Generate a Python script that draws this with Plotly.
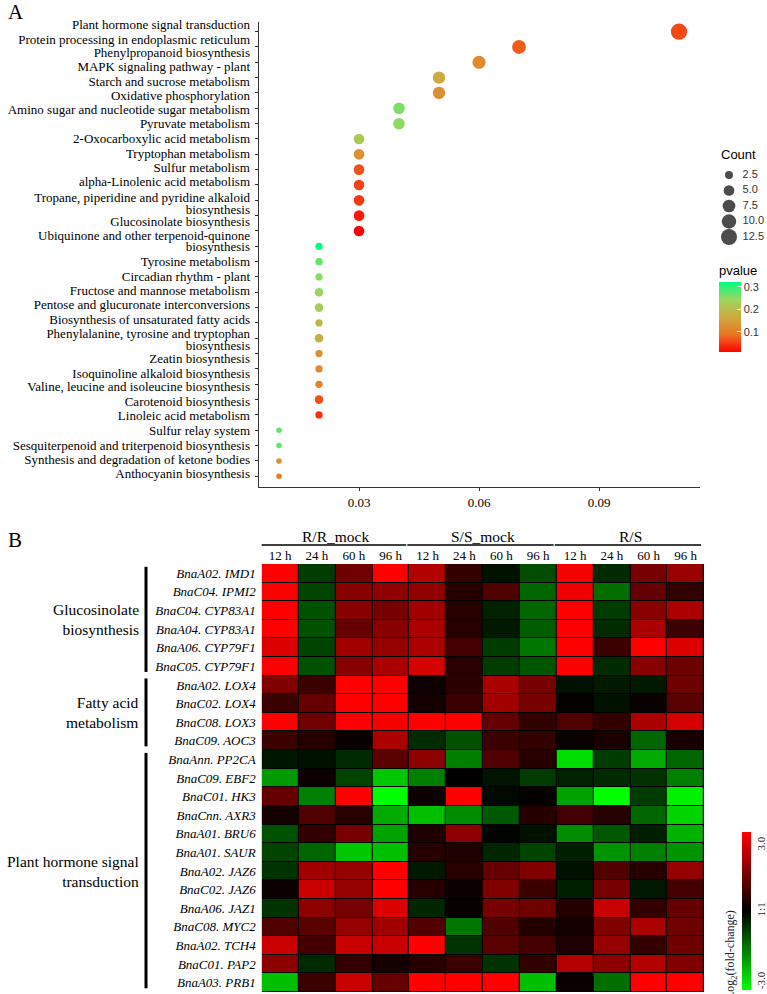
import math
import plotly.graph_objects as go

W, H = 767, 994
SERIF = "Liberation Serif, Times New Roman, serif"
SANS = "Liberation Sans, Arial, sans-serif"

# ---------------- Panel A data ----------------
pathways = [
    "Plant hormone signal transduction",
    "Protein processing in endoplasmic reticulum",
    "Phenylpropanoid biosynthesis",
    "MAPK signaling pathway - plant",
    "Starch and sucrose metabolism",
    "Oxidative phosphorylation",
    "Amino sugar and nucleotide sugar metabolism",
    "Pyruvate metabolism",
    "2-Oxocarboxylic acid metabolism",
    "Tryptophan metabolism",
    "Sulfur metabolism",
    "alpha-Linolenic acid metabolism",
    "Tropane, piperidine and pyridine alkaloid<br>biosynthesis",
    "Glucosinolate biosynthesis",
    "Ubiquinone and other terpenoid-quinone<br>biosynthesis",
    "Tyrosine metabolism",
    "Circadian rhythm - plant",
    "Fructose and mannose metabolism",
    "Pentose and glucuronate interconversions",
    "Biosynthesis of unsaturated fatty acids",
    "Phenylalanine, tyrosine and tryptophan<br>biosynthesis",
    "Zeatin biosynthesis",
    "Isoquinoline alkaloid biosynthesis",
    "Valine, leucine and isoleucine biosynthesis",
    "Carotenoid biosynthesis",
    "Linoleic acid metabolism",
    "Sulfur relay system",
    "Sesquiterpenoid and triterpenoid biosynthesis",
    "Synthesis and degradation of ketone bodies",
    "Anthocyanin biosynthesis",
]
gene_ratio = [0.11, 0.07, 0.06, 0.05, 0.05, 0.04, 0.04,
              0.03, 0.03, 0.03, 0.03, 0.03, 0.03, 0.03,
              0.02, 0.02, 0.02, 0.02, 0.02, 0.02, 0.02, 0.02, 0.02, 0.02, 0.02, 0.02,
              0.01, 0.01, 0.01, 0.01]
counts = [13, 9, 8, 7, 7, 6, 6,
          5, 5, 5, 5, 5, 5, 5,
          2, 2, 2, 3, 3, 2, 3, 2, 2, 2, 3, 2,
          1, 1, 1, 1]
pvalues = [0.057, 0.072, 0.119, 0.166, 0.125, 0.259, 0.249,
           0.221, 0.128, 0.063, 0.054, 0.047, 0.026, 0.010,
           0.321, 0.274, 0.253, 0.246, 0.228, 0.190, 0.175, 0.128, 0.122, 0.110, 0.063, 0.041,
           0.274, 0.274, 0.128, 0.094]
pvalue_range = [0.010, 0.321]
count_legend = [2.5, 5.0, 7.5, 10.0, 12.5]
pvalue_ticks = [0.1, 0.2, 0.3]
x_ticks_A = [0.03, 0.06, 0.09]

# where each label line sits (row units) in the original layout
label_line_pos = [[0.56], [1.48], [2.37], [3.30], [4.22], [5.17], [6.06], [6.99], [7.95],
                  [8.93], [9.87], [10.80], [11.80, 12.58], [13.35], [14.26, 15.0], [16.0],
                  [16.94], [17.85], [18.78], [19.74], [20.67, 21.44], [22.3], [23.28],
                  [24.16], [25.14], [26.05], [27.03], [27.96], [28.89], [29.8]]

# ---------------- Panel B data ----------------
conditions = ["R/R_mock", "S/S_mock", "R/S"]
times = ["12 h", "24 h", "60 h", "96 h"]
genes = ["BnaA02. IMD1", "BnaC04. IPMI2", "BnaC04. CYP83A1", "BnaA04. CYP83A1",
         "BnaA06. CYP79F1", "BnaC05. CYP79F1",
         "BnaA02. LOX4", "BnaC02. LOX4", "BnaC08. LOX3", "BnaC09. AOC3",
         "BnaAnn. PP2CA", "BnaC09. EBF2", "BnaC01. HK3", "BnaCnn. AXR3", "BnaA01. BRU6",
         "BnaA01. SAUR", "BnaA02. JAZ6", "BnaC02. JAZ6", "BnaA06. JAZ1", "BnaC08. MYC2",
         "BnaA02. TCH4", "BnaC01. PAP2", "BnaA03. PRB1"]
gene_groups = [("Glucosinolate<br>biosynthesis", 0, 5),
               ("Fatty acid<br>metabolism", 6, 9),
               ("Plant hormone signal<br>transduction", 10, 22)]
log2fc = [
    [3.0, -0.7, 1.3, 3.0, 2.1, 0.6, -0.2, -0.9, 2.9, -0.5, 1.4, 1.8],
    [3.0, -0.8, 1.6, 1.7, 1.7, 0.45, 0.95, -1.2, 2.8, -1.3, 1.2, 0.6],
    [3.0, -0.95, 1.6, 1.4, 1.9, 0.45, -0.4, -1.2, 3.0, -0.7, 1.6, 2.0],
    [3.0, -0.95, 1.2, 1.6, 2.0, 0.45, -0.3, -1.1, 3.0, -0.5, 2.0, 0.7],
    [2.6, -0.8, 1.9, 1.75, 2.0, 0.8, -0.7, -1.4, 3.0, 0.7, 3.0, 2.6],
    [3.0, -0.95, 1.6, 2.0, 2.5, 0.5, -0.7, -1.0, 3.0, -0.5, 1.6, 1.3],
    [1.5, 0.7, 3.0, 3.0, 0.15, 0.5, 2.0, 1.4, -0.2, -0.3, -0.3, 1.3],
    [0.7, 1.2, 3.0, 3.0, 0.25, 0.7, 1.9, 1.4, 0.05, -0.2, 0.1, 1.05],
    [3.0, 1.3, 3.0, 2.9, 3.0, 3.0, 1.2, 0.6, 0.95, 0.6, 2.0, 2.5],
    [0.7, 0.45, 0.1, 2.0, -0.5, -0.95, 0.7, 0.6, 0.1, 0.3, -1.2, 0.3],
    [-0.25, -0.2, -0.5, 1.05, 1.65, -1.5, 0.95, 0.45, -2.6, -0.7, -2.0, -1.2],
    [-1.8, 0.15, -0.8, -2.35, -1.5, 0.0, -0.25, -0.7, -0.4, -0.5, -0.6, -1.5],
    [1.2, -1.5, 3.0, -3.0, 0.15, 3.0, -0.1, 0.05, -1.9, -3.0, -0.7, -2.85],
    [0.25, 0.95, 0.45, -2.0, -2.25, -1.65, -1.05, 0.45, 0.8, 0.45, -1.2, -2.5],
    [-0.95, 0.6, 1.4, -1.9, 0.35, 1.65, -0.05, -0.2, -1.65, -1.05, -0.35, -2.1],
    [-0.8, -1.2, -2.35, -2.25, 0.45, 0.35, -0.45, -0.8, -0.35, -1.75, -1.5, -1.75],
    [-0.6, 1.9, 1.75, 3.0, -0.3, 0.45, 1.2, 1.5, -0.2, 0.95, 0.45, 1.75],
    [0.15, 2.35, 1.75, 3.0, 0.45, 0.15, 1.5, 0.7, -0.35, 1.4, -0.3, 0.8],
    [-0.6, 1.65, 1.4, 2.6, -0.45, 0.1, 1.4, 1.3, 0.45, 2.35, 0.6, 1.2],
    [0.95, 1.05, 1.75, 1.9, 0.95, -1.4, 0.95, 0.4, 0.25, 1.5, 2.0, 1.3],
    [2.35, 0.8, 2.35, 2.35, 3.0, -0.6, 1.05, 0.8, 0.35, 1.75, 0.6, 1.3],
    [1.65, -0.5, 0.6, 0.25, 0.45, 0.7, -0.6, 0.6, 2.1, 1.65, 2.1, 1.5],
    [-2.25, 0.7, 2.35, 1.2, 3.0, 3.0, 3.0, -2.25, 0.1, -1.3, 3.0, 3.0],
]
fc_ticktext = ["3.0", "1:1", "-3.0"]
fc_tick_pos = [2.5, 0.0, -2.7]   # labels sit slightly inside the bar ends


# ---------------- helpers ----------------
def px_x(p):
    return p / W


def px_y(p):
    return 1 - p / H


def dot_size(c):
    # ggplot-like area scale: diameter linear in sqrt(count)
    return 5.6 + 4.1 * (math.sqrt(c) - 1)


rows = list(range(1, len(pathways) + 1))
pv_scale = [[0.0, "#FF0000"], [0.25, "#EB7521"], [0.5, "#CDAA40"],
            [0.75, "#9DD65F"], [1.0, "#00FF7F"]]
fc_scale = [[0.0, "#00FF00"], [0.5, "#000000"], [1.0, "#FF0000"]]

fig = go.Figure()

# Panel A bubbles
fig.add_trace(go.Scatter(
    x=gene_ratio, y=rows, mode="markers", xaxis="x", yaxis="y",
    marker=dict(size=[dot_size(c) for c in counts], color=pvalues,
                colorscale=pv_scale, cmin=pvalue_range[0], cmax=pvalue_range[1], opacity=1,
                line=dict(width=0),
                colorbar=dict(
                    title=dict(text="pvalue", side="top", font=dict(family=SANS, size=13, color="#000")),
                    x=px_x(719), xanchor="left", y=px_y(307), yanchor="middle",
                    lenmode="pixels", len=90, thickness=22, xpad=0, ypad=0,
                    outlinewidth=0, tickvals=pvalue_ticks,
                    ticktext=[f"{v:.1f}" for v in pvalue_ticks],
                    ticks="inside", ticklen=4, tickcolor="white",
                    tickfont=dict(family=SANS, size=11, color="#333"))),
    showlegend=False, hoverinfo="skip"))

# invisible trace to host the label axis
fig.add_trace(go.Scatter(x=[None], y=[None], xaxis="x", yaxis="y4",
                         showlegend=False, hoverinfo="skip"))

# Count size legend
leg_idx = list(range(len(count_legend)))
fig.add_trace(go.Scatter(
    x=[0] * len(count_legend), y=leg_idx, mode="markers", xaxis="x3", yaxis="y3",
    marker=dict(size=[dot_size(c) for c in count_legend], color="black", line=dict(width=0)),
    cliponaxis=False, showlegend=False, hoverinfo="skip"))
fig.add_trace(go.Scatter(
    x=[0.85] * len(count_legend), y=leg_idx, mode="text", xaxis="x3", yaxis="y3",
    text=[f"{c:.1f}" for c in count_legend], textposition="middle right",
    textfont=dict(family=SANS, size=11, color="#333"),
    cliponaxis=False, showlegend=False, hoverinfo="skip"))

# Panel B heatmap
n_rows = len(genes)
n_cols = len(conditions) * len(times)
fig.add_trace(go.Heatmap(
    z=log2fc, x=list(range(n_cols)), y=list(range(n_rows)),
    xaxis="x2", yaxis="y2", colorscale=fc_scale, zmin=-3, zmax=3,
    xgap=1, ygap=1, hoverinfo="skip",
    colorbar=dict(x=px_x(742), xanchor="left", y=px_y(911), yanchor="middle",
                  lenmode="pixels", len=158, thickness=9, xpad=0, ypad=0,
                  outlinewidth=0, tickvals=fc_tick_pos, ticktext=fc_ticktext,
                  ticks="", tickangle=-90,
                  tickfont=dict(family=SERIF, size=11, color="#222"))))

# label lines for panel A
lab_vals, lab_text = [], []
for name, poss in zip(pathways, label_line_pos):
    for line, pos in zip(name.split("<br>"), poss):
        lab_vals.append(pos)
        lab_text.append(line)

axis_col = "#333333"
yrangeA = [30.7, 0.37]
layout = dict(
    width=W, height=H, margin=dict(l=0, r=0, t=0, b=0),
    paper_bgcolor="white", plot_bgcolor="white",
    xaxis=dict(domain=[px_x(259), px_x(700)], range=[0.005, 0.11525], anchor="y",
               tickvals=x_ticks_A, ticktext=[f"{v:.2f}" for v in x_ticks_A],
               ticks="outside", ticklen=3, tickcolor=axis_col, showline=True,
               linecolor=axis_col, linewidth=1, showgrid=False, zeroline=False,
               tickfont=dict(family=SERIF, size=13, color="#000"), automargin=False),
    yaxis=dict(domain=[px_y(487), px_y(22)], range=yrangeA, anchor="x",
               tickvals=rows, showticklabels=False, ticks="outside", ticklen=3,
               tickcolor=axis_col, showline=True, linecolor=axis_col, linewidth=1,
               showgrid=False, zeroline=False, automargin=False),
    yaxis4=dict(overlaying="y", anchor="x", side="left", range=yrangeA,
                tickvals=lab_vals, ticktext=lab_text, ticks="", showline=False,
                showgrid=False, zeroline=False, ticklabelstandoff=8,
                tickfont=dict(family=SERIF, size=13, color="#000"), automargin=False),
    xaxis3=dict(domain=[px_x(719), 1.0], range=[-0.625, 2.375], visible=False, anchor="y3"),
    yaxis3=dict(domain=[px_y(244.75), px_y(167.25)], range=[4.5, -0.5], visible=False,
                anchor="x3"),
    xaxis2=dict(domain=[px_x(261.7), px_x(704)], range=[-0.5, n_cols - 0.5], anchor="y2",
                side="top", tickvals=list(range(n_cols)),
                ticktext=times * len(conditions), ticks="", showline=False,
                showgrid=False, zeroline=False, ticklabelstandoff=0,
                tickfont=dict(family=SERIF, size=13, color="#000"), automargin=False),
    yaxis2=dict(domain=[px_y(992), px_y(564)], range=[n_rows - 0.5, -0.5], anchor="x2",
                tickvals=list(range(n_rows)), ticktext=[f"<i>{g}</i>" for g in genes],
                ticks="", showline=False, showgrid=False, zeroline=False,
                ticklabelstandoff=5,
                tickfont=dict(family=SERIF, size=13, color="#000"), automargin=False),
)
fig.update_layout(**layout)

annotations = [
    dict(text="A", x=px_x(6), y=px_y(12), xref="paper", yref="paper", xanchor="left",
         yanchor="middle", showarrow=False, font=dict(family=SERIF, size=21, color="#000")),
    dict(text="B", x=px_x(6), y=px_y(540), xref="paper", yref="paper", xanchor="left",
         yanchor="middle", showarrow=False, font=dict(family=SERIF, size=21, color="#000")),
    dict(text="Count", x=px_x(719), y=px_y(155), xref="paper", yref="paper", xanchor="left",
         yanchor="middle", showarrow=False, font=dict(family=SANS, size=13, color="#000")),
    dict(text="Log<sub>2</sub>(fold-change)", x=px_x(731), y=px_y(955), xref="paper",
         yref="paper", xanchor="center", yanchor="middle", textangle=-90, showarrow=False,
         font=dict(family=SERIF, size=12, color="#222")),
]
shapes = [
    dict(type="rect", xref="x2", yref="y2", x0=-0.5, x1=n_cols - 0.5, y0=-0.5,
         y1=n_rows - 0.5, fillcolor="black", line=dict(width=0), layer="below"),
]
for k, cond in enumerate(conditions):
    c0, c1 = k * len(times), (k + 1) * len(times) - 1
    annotations.append(dict(text=cond, x=(c0 + c1) / 2, y=px_y(536), xref="x2", yref="paper",
                            xanchor="center", yanchor="middle", showarrow=False,
                            font=dict(family=SERIF, size=15.5, color="#000")))
    shapes.append(dict(type="line", xref="x2", yref="paper", x0=c0 - 0.55, x1=c1 + 0.42,
                       y0=px_y(545), y1=px_y(545), line=dict(color="black", width=1.6)))
for name, r0, r1 in gene_groups:
    annotations.append(dict(text=name, x=px_x(141), y=(r0 + r1) / 2, xref="paper", yref="y2",
                            xanchor="right", yanchor="middle", align="right", showarrow=False,
                            font=dict(family=SERIF, size=15.5, color="#000")))
    shapes.append(dict(type="line", xref="paper", yref="y2", x0=px_x(146), x1=px_x(146),
                       y0=r0 - 0.35, y1=r1 + 0.3, line=dict(color="black", width=3)))

fig.update_layout(annotations=annotations, shapes=shapes)
fig.write_html("out.html", config={"displayModeBar": False},
               post_script="document.body.style.margin='0px';"
                           "document.body.style.overflow='hidden';")
